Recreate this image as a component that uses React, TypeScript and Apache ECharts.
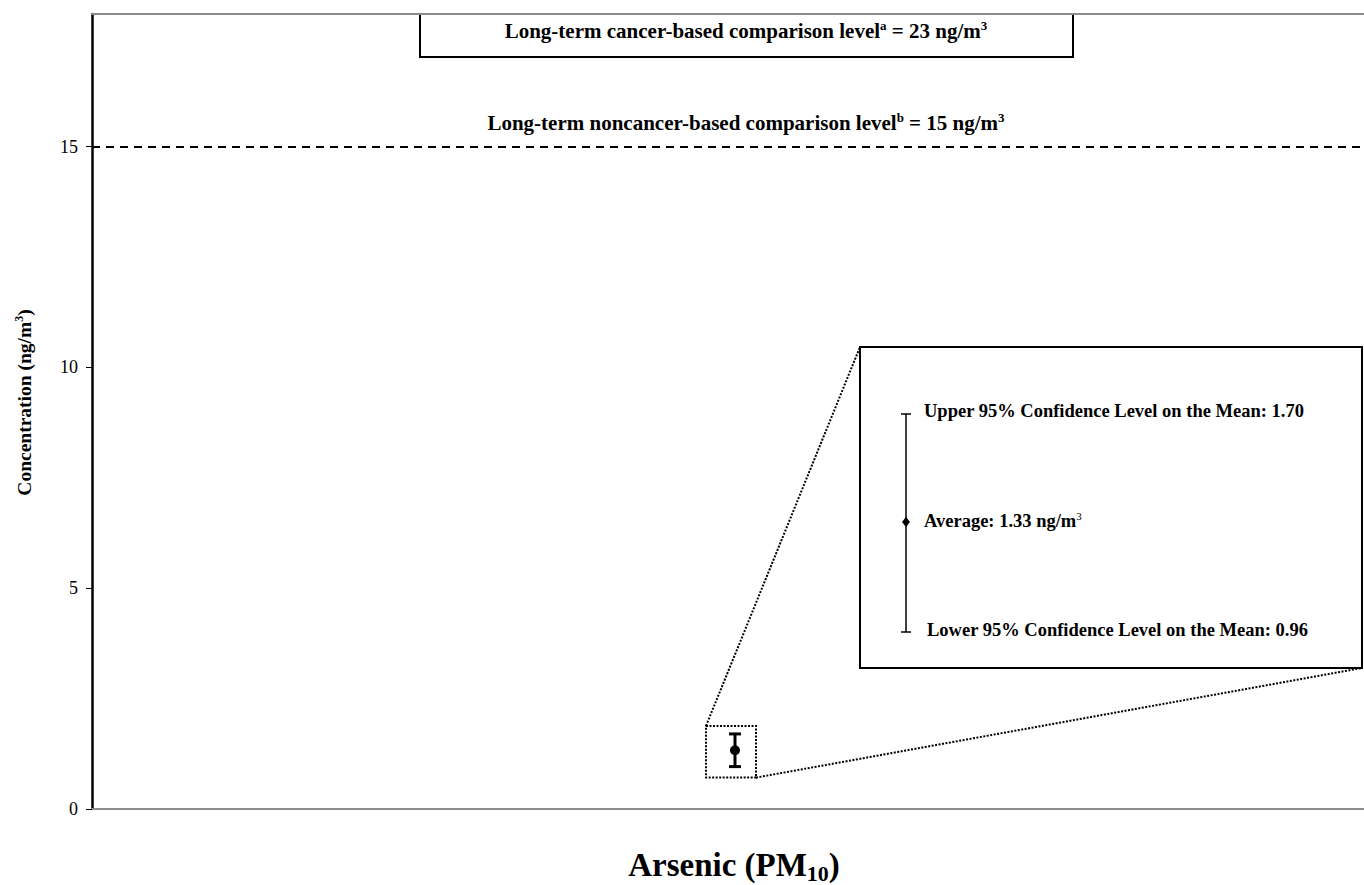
import React, { useEffect, useRef } from "react";
import * as echarts from "echarts";

const categories = ["Arsenic (PM10)"];
const meanValues = [1.33];
const upperValues = [1.7];
const lowerValues = [0.96];
const noncancerLevel = 15;
const yTicks = [0, 5, 10, 15];

const SERIF = "'Liberation Serif', 'Times New Roman', serif";

export default function App() {
  const ref = useRef<HTMLDivElement>(null);
  useEffect(() => {
    document.body.style.margin = "0";
    const chart = echarts.init(ref.current!, null, { renderer: "svg" });
    const data = categories.map((c, i) => [i, meanValues[i], upperValues[i], lowerValues[i]]);
    const inset = { x: 860, y: 347, w: 502, h: 321 };
    const option: any = {
      animation: false,
      backgroundColor: "#fff",
      grid: { left: 92, right: 0, top: 14, bottom: 76, outerBoundsMode: "none", containLabel: false },
      xAxis: [
        {
          type: "category",
          data: categories,
          name: "{b|Arsenic (PM}{s|10}{b|)}",
          nameLocation: "middle",
          nameGap: 38,
          nameTextStyle: {
            padding: [0, 0, 0, 12],
            rich: {
              b: { fontFamily: SERIF, fontWeight: "bold", fontSize: 33, color: "#000", lineHeight: 36 },
              s: { fontFamily: SERIF, fontWeight: "bold", fontSize: 22, color: "#000", lineHeight: 36, padding: [16, 0, 0, 0] },
            },
          },
          axisLine: { lineStyle: { color: "#8c8c8c", width: 2 } },
          axisTick: { show: false },
          axisLabel: { show: false },
        },
        {
          type: "category",
          position: "top",
          data: categories,
          axisLine: { lineStyle: { color: "#8c8c8c", width: 2 } },
          axisTick: { show: false },
          axisLabel: { show: false },
        },
      ],
      yAxis: {
        type: "value",
        min: 0,
        max: 18,
        interval: 5,
        name: "{t|Concentration (ng/m}{s|3}{t|)}",
        nameLocation: "middle",
        nameGap: 57,
        nameTextStyle: {
          padding: [0, 0, 0, 18],
          rich: {
            t: { fontFamily: SERIF, fontWeight: "bold", fontSize: 19.5, color: "#000", lineHeight: 22 },
            s: { fontFamily: SERIF, fontWeight: "bold", fontSize: 12, color: "#000", lineHeight: 22, verticalAlign: "top" },
          },
        },
        splitLine: { show: false },
        axisLine: { show: true, lineStyle: { color: "#000", width: 2.5 } },
        axisTick: { show: true, length: 6, customValues: yTicks, lineStyle: { color: "#000", width: 1 } },
        axisLabel: {
          customValues: yTicks,
          margin: 14,
          fontFamily: SERIF,
          fontSize: 18,
          color: "#000",
        },
      },
      graphic: [
        {
          type: "group",
          z: 100,
          children: [
            {
              type: "rect",
              shape: { x: 420, y: 14, width: 653, height: 43 },
              style: { fill: "#fff", stroke: "#000", lineWidth: 2 },
            },
            {
              type: "text",
              x: 746,
              y: 31,
              style: {
                text: "{b|Long-term cancer-based comparison level}{s|a}{b| = 23 ng/m}{s|3}",
                align: "center",
                verticalAlign: "middle",
                rich: {
                  b: { fontFamily: SERIF, fontWeight: "bold", fontSize: 21, fill: "#000", lineHeight: 24 },
                  s: { fontFamily: SERIF, fontWeight: "bold", fontSize: 13, fill: "#000", lineHeight: 24, verticalAlign: "top" },
                },
              },
            },
            {
              type: "rect",
              shape: { x: inset.x, y: inset.y, width: inset.w, height: inset.h },
              style: { fill: "#fff", stroke: "#000", lineWidth: 2 },
            },
            {
              type: "line",
              shape: { x1: 906, y1: 414, x2: 906, y2: 632 },
              style: { stroke: "#000", lineWidth: 1.5 },
            },
            { type: "line", shape: { x1: 901, y1: 414, x2: 911, y2: 414 }, style: { stroke: "#000", lineWidth: 1.5 } },
            { type: "line", shape: { x1: 901, y1: 632, x2: 911, y2: 632 }, style: { stroke: "#000", lineWidth: 1.5 } },
            {
              type: "polygon",
              shape: { points: [[906, 517], [910, 522], [906, 527], [902, 522]] },
              style: { fill: "#000" },
            },
            {
              type: "text",
              x: 924,
              y: 411,
              style: {
                text: "Upper 95% Confidence Level on the Mean: 1.70",
                fontFamily: SERIF,
                fontWeight: "bold",
                fontSize: 18.5,
                fill: "#000",
                verticalAlign: "middle",
              },
            },
            {
              type: "text",
              x: 924,
              y: 521,
              style: {
                text: "{b|Average: 1.33 ng/m}{s|3}",
                verticalAlign: "middle",
                rich: {
                  b: { fontFamily: SERIF, fontWeight: "bold", fontSize: 18.5, fill: "#000", lineHeight: 22 },
                  s: { fontFamily: SERIF, fontSize: 11, fill: "#000", lineHeight: 22, verticalAlign: "top" },
                },
              },
            },
            {
              type: "text",
              x: 927,
              y: 630,
              style: {
                text: "Lower 95% Confidence Level on the Mean: 0.96",
                fontFamily: SERIF,
                fontWeight: "bold",
                fontSize: 18.5,
                fill: "#000",
                verticalAlign: "middle",
              },
            },
          ],
        },
      ],
      series: [
        {
          type: "custom",
          data,
          z: 10,
          renderItem: (params: any, api: any) => {
            const idx = api.value(0);
            const mean = api.coord([idx, api.value(1)]);
            const up = api.coord([idx, api.value(2)]);
            const lo = api.coord([idx, api.value(3)]);
            const cx = mean[0] + 7;
            const bx1 = cx - 29;
            const bx2 = cx + 21;
            const by1 = up[1] - 8;
            const by2 = lo[1] + 11;
            const dot = { stroke: "#000", lineWidth: 2, lineDash: [2, 1.5] };
            return {
              type: "group",
              children: [
                { type: "rect", shape: { x: bx1, y: by1, width: bx2 - bx1, height: by2 - by1 }, style: { fill: "none", ...dot } },
                { type: "line", shape: { x1: bx1, y1: by1, x2: inset.x, y2: inset.y }, style: dot },
                { type: "line", shape: { x1: bx2, y1: by2, x2: inset.x + inset.w, y2: inset.y + inset.h }, style: dot },
                { type: "line", shape: { x1: cx, y1: up[1], x2: cx, y2: lo[1] }, style: { stroke: "#000", lineWidth: 3 } },
                { type: "line", shape: { x1: cx - 6, y1: up[1], x2: cx + 6, y2: up[1] }, style: { stroke: "#000", lineWidth: 3 } },
                { type: "line", shape: { x1: cx - 6, y1: lo[1], x2: cx + 6, y2: lo[1] }, style: { stroke: "#000", lineWidth: 3 } },
                { type: "circle", shape: { cx, cy: mean[1], r: 5 }, style: { fill: "#000" } },
              ],
            };
          },
          markLine: {
            silent: true,
            symbol: "none",
            lineStyle: { color: "#000", type: [8, 6], width: 2 },
            label: {
              position: "middle",
              distance: 12,
              offset: [18, 0],
              formatter: "{b|Long-term noncancer-based comparison level}{s|b}{b| = 15 ng/m}{s|3}",
              rich: {
                b: { fontFamily: SERIF, fontWeight: "bold", fontSize: 21, color: "#000", lineHeight: 24 },
                s: { fontFamily: SERIF, fontWeight: "bold", fontSize: 13, color: "#000", lineHeight: 24, verticalAlign: "top" },
              },
            },
            data: [{ yAxis: noncancerLevel }],
          },
        },
      ],
    };
    chart.setOption(option);
    return () => chart.dispose();
  }, []);
  return <div ref={ref} style={{ width: 1364, height: 885 }} />;
}
